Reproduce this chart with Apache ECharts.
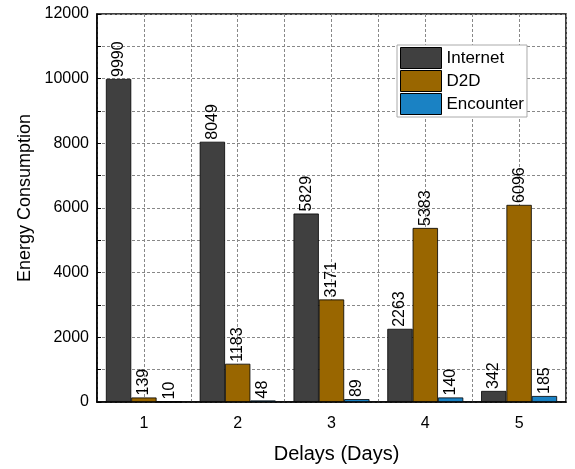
<!DOCTYPE html>
<html>
<head>
<meta charset="utf-8">
<script src="https://cdn.jsdelivr.net/npm/echarts@6/dist/echarts.min.js"></script>
<style>
    html, body { margin: 0; padding: 0; background: #fff; }
    #chart { width: 575px; height: 469px; }
</style>
</head>
<body>
<div id="chart"></div>
<script>
    const categories = ['1', '2', '3', '4', '5'];
    const internet = [9990, 8049, 5829, 2263, 342];
    const d2d = [139, 1183, 3171, 5383, 6096];
    const encounter = [10, 48, 89, 140, 185];
    const yTicks = [0, 2000, 4000, 6000, 8000, 10000, 12000];

    const font = 'Liberation Sans, Arial, sans-serif';

    function barSeries(name, data, color) {
        return {
            name: name,
            type: 'bar',
            data: data,
            barGap: '0%',
            barCategoryGap: '19%',
            itemStyle: { color: color, borderColor: '#000', borderWidth: 0.8 },
            label: {
                show: true,
                position: 'top',
                rotate: 90,
                align: 'left',
                verticalAlign: 'middle',
                distance: 2,
                color: '#000',
                fontFamily: font,
                fontSize: 16
            }
        };
    }

    let myChart = echarts.init(document.getElementById('chart'));
    let option = {
        animation: false,
        backgroundColor: '#fff',
        grid: {
            left: 97, right: 9, top: 14, bottom: 65,
            show: true, borderColor: '#000', borderWidth: 1.5
        },
        legend: {
            left: 397, top: 45,
            orient: 'vertical',
            icon: 'rect',
            itemWidth: 41, itemHeight: 21, itemGap: 1,
            padding: [2, 3, 2, 3],
            backgroundColor: '#fff',
            borderColor: '#aaa', borderWidth: 1,
            itemStyle: { borderColor: '#000', borderWidth: 1 },
            textStyle: { fontFamily: font, fontSize: 17, color: '#000' },
            data: ['Internet', 'D2D', 'Encounter']
        },
        xAxis: [
            {
                type: 'category',
                data: categories,
                name: 'Delays (Days)',
                nameLocation: 'middle',
                nameGap: 42,
                nameTextStyle: { fontFamily: font, fontSize: 20, color: '#000', padding: [0, 0, 0, 10] },
                axisLine: { lineStyle: { color: '#000', width: 1.5 } },
                axisTick: { show: false },
                axisLabel: { fontFamily: font, fontSize: 16, color: '#000', margin: 14 },
                splitLine: { show: false }
            },
            {
                type: 'value',
                min: 0.5, max: 5.5, interval: 0.5,
                position: 'bottom',
                axisLine: { show: false },
                axisTick: { show: false },
                axisLabel: { show: false },
                splitLine: { show: true, lineStyle: { color: '#888', type: [3, 2], width: 1 } }
            }
        ],
        yAxis: {
            type: 'value',
            min: yTicks[0], max: yTicks[yTicks.length - 1], interval: 2000,
            name: 'Energy Consumption',
            nameLocation: 'middle',
            nameGap: 62,
            nameTextStyle: { fontFamily: font, fontSize: 18, color: '#000', padding: [0, 0, 0, 20] },
            axisLine: { show: true, lineStyle: { color: '#000', width: 1.5 } },
            axisTick: { show: true, inside: true, length: 4, lineStyle: { color: '#000' } },
            minorTick: { show: true, splitNumber: 2, length: 4, lineStyle: { color: '#000' } },
            axisLabel: { fontFamily: font, fontSize: 16, color: '#000', margin: 8, formatter: function (v) { return String(v); } },
            splitLine: { show: true, lineStyle: { color: '#888', type: [3, 2], width: 1 } },
            minorSplitLine: { show: true, lineStyle: { color: '#888', type: [3, 2], width: 1 } }
        },
        series: [
            barSeries('Internet', internet, '#404040'),
            barSeries('D2D', d2d, '#996600'),
            barSeries('Encounter', encounter, '#1a82c4')
        ]
    };
    myChart.setOption(option);
</script>
</body>
</html>
